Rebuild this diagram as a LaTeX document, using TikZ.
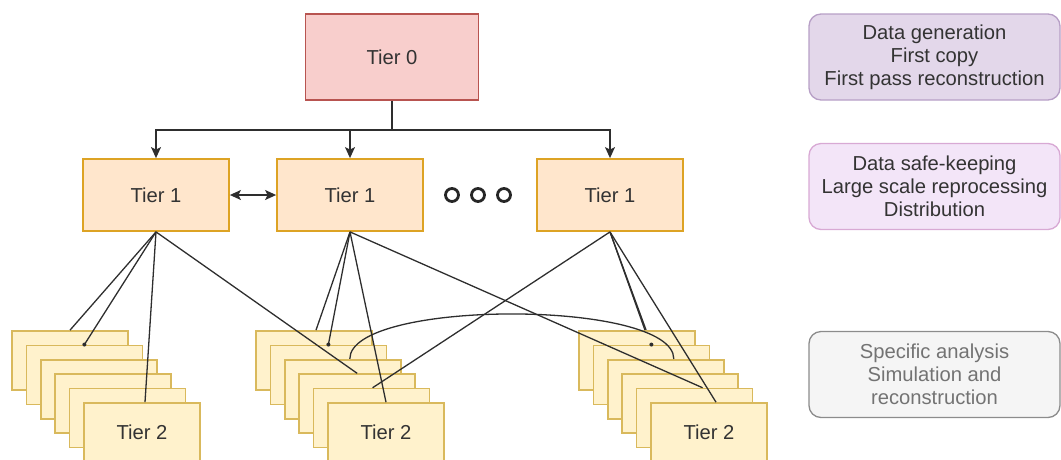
\documentclass[tikz,border=0pt]{standalone}
\usepackage{fontspec}
\setmainfont{Liberation Sans}
\usetikzlibrary{arrows.meta,calc,backgrounds}
\definecolor{tzf}{HTML}{F8CECC}
\definecolor{tzd}{HTML}{B85450}
\definecolor{tof}{HTML}{FFE6CC}
\definecolor{tod}{HTML}{DDA324}
\definecolor{ttf}{HTML}{FFF2CC}
\definecolor{ttd}{HTML}{D9B95C}
\definecolor{iaf}{HTML}{E3D7EA}
\definecolor{iad}{HTML}{B79FC6}
\definecolor{ibf}{HTML}{F3E5F8}
\definecolor{ibd}{HTML}{D8A9D4}
\definecolor{icf}{HTML}{F5F5F5}
\definecolor{icd}{HTML}{8C8C8C}
\definecolor{txt}{HTML}{333333}
\definecolor{lc}{HTML}{2E2E2E}
\begin{document}
\begin{tikzpicture}[x=1pt,y=-1pt,
  lbl/.style={text=txt, font=\fontsize{20.2}{23}\selectfont, align=center, inner sep=0pt},
  tierzero/.style={lbl, draw=tzd, fill=tzf, line width=1.8pt, minimum width=173pt, minimum height=86pt},
  tierone/.style={lbl, draw=tod, fill=tof, line width=1.8pt, minimum width=146pt, minimum height=72pt},
  card/.style={lbl, draw=ttd, fill=ttf, line width=1.7pt, minimum width=116pt, minimum height=59pt},
  info/.style={lbl, rounded corners=12pt, line width=1.3pt, minimum width=251pt, minimum height=86pt},
  conn/.style={draw=lc, line width=1.3pt},
  arr/.style={conn, -{Stealth[length=11pt,width=10pt,inset=2.5pt]}},
  darr/.style={conn, {Stealth[length=11pt,width=10pt,inset=2.5pt]}-{Stealth[length=11pt,width=10pt,inset=2.5pt]}},
  enddot/.style={circle, fill=lc, inner sep=0pt, minimum size=4pt},
  ring/.style={circle, draw=black!85, line width=2.8pt, minimum size=13pt, inner sep=0pt}
]
\useasboundingbox (0,0) rectangle (1061,459);
\clip (0,0) rectangle (1061,459);

% Tier 0 and Tier 1
\node[tierzero] (t0) at (392,57) {Tier 0};
\node[tierone] (t1a) at (156,195) {Tier 1};
\node[tierone] (t1b) at (350,195) {Tier 1};
\node[tierone] (t1c) at (610,195) {Tier 1};
\coordinate (j) at (392,130);
\draw[arr] (t0.south) -- (j) -| (t1a.north);
\draw[arr] (j) -| (t1b.north);
\draw[arr] (j) -| (t1c.north);
\draw[darr] (t1a.east) -- (t1b.west);

% dots
\node[ring] (o1) at (452,195) {};
\node[ring] (o2) at (478,195) {};
\node[ring] (o3) at (504,195) {};

% Tier 2 stacks
\foreach \s/\x in {1/12, 2/256, 3/579} {
  \foreach \i in {1,...,6} {
    \node[card] (s\s-\i) at ({\x+(\i-1)*14.4+58},{331+(\i-1)*14.4+29.5}) {\ifnum\i=6 Tier 2\fi};
  }
}

% info boxes
\node[info, draw=iad, fill=iaf] (ia) at (934.5,57) {Data generation\\First copy\\First pass reconstruction};
\node[info, draw=ibd, fill=ibf] (ib) at (934.5,186.5) {Data safe-keeping\\Large scale reprocessing\\Distribution};
\node[info, draw=icd, fill=icf, text=black!55] (ic) at (934.5,374.5) {Specific analysis\\Simulation and\\reconstruction};

% connectors from left Tier 1
\draw[conn] (t1a.south) -- (s1-1.north);
\draw[conn] (t1a.south) -- (s1-2.north) node[enddot] {};
\draw[conn] (t1a.south) -- ([xshift=3pt]s1-6.north);
\draw[conn] (t1a.south) -- (s2-4.north);

% connectors from middle Tier 1
\draw[conn] (t1b.south) -- ([xshift=2pt]s2-1.north);
\draw[conn] (t1b.south) -- (s2-2.north) node[enddot] {};
\draw[conn] (t1b.south) -- (s2-6.north);
\draw[conn] (t1b.south) -- ([xshift=8pt]s3-5.north);

% connectors from right Tier 1
\draw[conn] (t1c.south) -- ([xshift=8pt]s3-1.north);
\begin{scope}[on background layer]
\draw[conn] (t1c.south) -- (s3-2.north);
\end{scope}
\node[enddot] (d3) at (s3-2.north) {};
\draw[conn] (t1c.south) -- ([xshift=7pt]s3-6.north);
\draw[conn] (t1c.south) -- ([xshift=1pt]s2-5.north);

% curve between stacks
\draw[conn] ([xshift=7pt]s2-3.north) .. controls +(0,-60) and +(0,-60) .. ([xshift=8pt]s3-3.north);
\end{tikzpicture}
\end{document}
